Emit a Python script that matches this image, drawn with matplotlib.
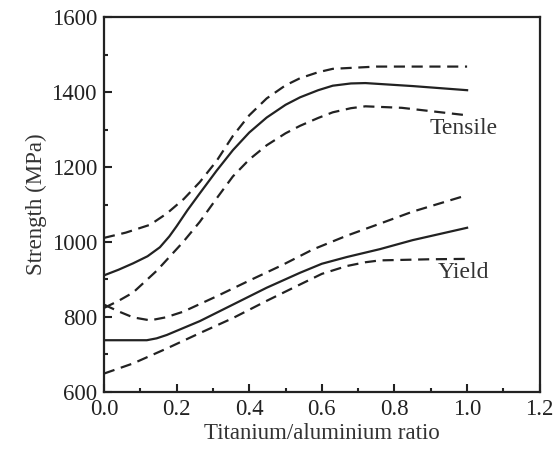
import matplotlib
matplotlib.use("Agg")
import matplotlib.pyplot as plt
from matplotlib.ticker import MultipleLocator

plt.rcParams['font.family'] = ['Liberation Serif', 'DejaVu Serif']

# Tensile strength (MPa) vs Ti/Al ratio
tensile_x = [0.0, 0.04, 0.08, 0.12, 0.154, 0.18, 0.2, 0.23, 0.264, 0.31, 0.355, 0.4, 0.448,
             0.5, 0.54, 0.59, 0.63, 0.68, 0.72, 0.85, 1.0]
tensile_y = [911, 926, 943, 962, 986, 1015, 1042, 1085, 1130, 1190, 1245, 1292, 1332,
             1366, 1386, 1405, 1417, 1423, 1424, 1416, 1405]
tensile_hi_x = [0.0, 0.06, 0.127, 0.173, 0.22, 0.264, 0.31, 0.355, 0.4, 0.448, 0.5, 0.54,
                0.59, 0.63, 0.75, 1.0]
tensile_hi_y = [1011, 1025, 1046, 1076, 1115, 1160, 1216, 1283, 1338, 1383, 1418, 1437,
                1453, 1462, 1468, 1468]
tensile_lo_x = [0.0, 0.04, 0.08, 0.146, 0.218, 0.264, 0.31, 0.355, 0.4, 0.448, 0.5, 0.54,
                0.59, 0.63, 0.68, 0.72, 0.82, 1.0]
tensile_lo_y = [824, 843, 865, 924, 1000, 1054, 1116, 1175, 1220, 1258, 1290, 1310,
                1331, 1346, 1357, 1362, 1358, 1338]

# Yield strength (MPa) vs Ti/Al ratio
yield_x = [0.0, 0.118, 0.145, 0.173, 0.264, 0.355, 0.448, 0.54, 0.6, 0.669, 0.76, 0.85, 1.0]
yield_y = [738, 738, 743, 752, 789, 833, 878, 918, 942, 960, 981, 1005, 1038]
yield_hi_x = [0.0, 0.04, 0.08, 0.127, 0.17, 0.218, 0.31, 0.40, 0.49, 0.575, 0.669, 0.76,
              0.85, 1.0]
yield_hi_y = [833, 815, 799, 791, 799, 814, 855, 897, 938, 980, 1017, 1049, 1081, 1125]
yield_lo_x = [0.0, 0.08, 0.173, 0.264, 0.355, 0.448, 0.53, 0.6, 0.669, 0.72, 0.76, 0.9, 1.0]
yield_lo_y = [649, 676, 716, 757, 797, 843, 882, 915, 936, 946, 951, 954, 955]

fig = plt.figure(figsize=(5.53, 4.5), dpi=100)
ax = fig.add_axes([0.188, 0.129, 0.788, 0.833])

lw = 1.6
dash = (0, (5, 3))
ax.plot(tensile_x, tensile_y, color='#222222', lw=lw)
ax.plot(tensile_hi_x, tensile_hi_y, color='#222222', lw=lw, linestyle=dash)
ax.plot(tensile_lo_x, tensile_lo_y, color='#222222', lw=lw, linestyle=dash)
ax.plot(yield_x, yield_y, color='#222222', lw=lw)
ax.plot(yield_hi_x, yield_hi_y, color='#222222', lw=lw, linestyle=dash)
ax.plot(yield_lo_x, yield_lo_y, color='#222222', lw=lw, linestyle=dash)

ax.text(0.99, 1302, 'Tensile', ha='center', va='center', fontsize=17, color='#333333')
ax.text(0.99, 919, 'Yield', ha='center', va='center', fontsize=17, color='#333333')

ax.set_xlim(0, 1.2)
ax.set_ylim(600, 1600)
ax.xaxis.set_major_locator(MultipleLocator(0.2))
ax.xaxis.set_minor_locator(MultipleLocator(0.1))
ax.yaxis.set_major_locator(MultipleLocator(200))
ax.yaxis.set_minor_locator(MultipleLocator(100))
ax.xaxis.set_major_formatter(plt.FuncFormatter(lambda v, p: f'{v:.1f}'))

ax.tick_params(which='both', direction='in', top=False, right=False,
               labelsize=16.5, colors='#222222', width=1.5)
ax.tick_params(which='major', length=6, pad=5)
ax.tick_params(which='minor', length=3)
for s in ax.spines.values():
    s.set_linewidth(1.6)
    s.set_color('#222222')

ax.set_xlabel('Titanium/aluminium ratio', fontsize=16.5, color='#333333', labelpad=2)
ax.set_ylabel('Strength (MPa)', fontsize=16.5, color='#333333', labelpad=3)

fig.savefig('out.png', dpi=100)
